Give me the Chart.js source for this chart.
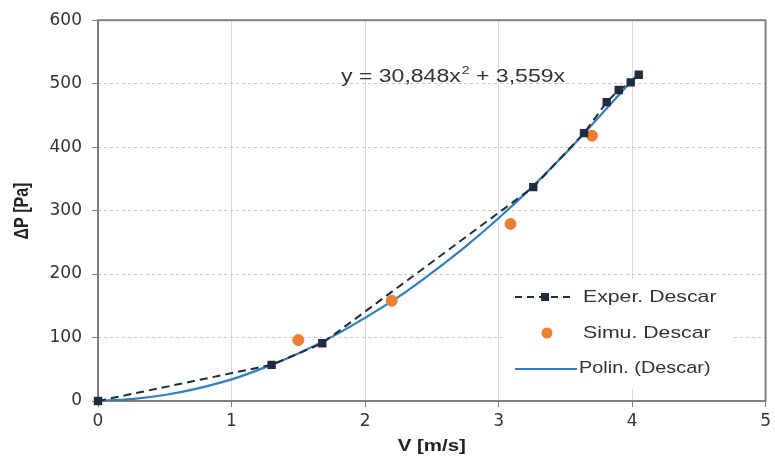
<!DOCTYPE html>
<html>
<head>
<meta charset="utf-8">
<script src="https://cdn.jsdelivr.net/npm/chart.js@4.4.1/dist/chart.umd.min.js"></script>
<style>
  html, body { margin: 0; padding: 0; background: #fff; }
  #wrap { width: 775px; height: 468px; position: relative; }
</style>
</head>
<body>
<div id="wrap"><canvas id="chart"></canvas></div>
<script>
// ── Data ───────────────────────────────────────────────────────────────
const xTicks = [0, 1, 2, 3, 4, 5];
const yTicks = [0, 100, 200, 300, 400, 500, 600];

const experV = [0, 1.30, 1.68, 3.26, 3.64, 3.81, 3.90, 3.99, 4.05];
const experDP = [0, 57, 91, 337, 422, 471, 490, 502, 514];

const simuV = [1.50, 2.20, 3.09, 3.70];
const simuDP = [96, 158, 279, 418];

// trendline (polynomial fit shown on the chart)
const polinV = [0, 0.25, 0.5, 0.75, 1, 1.25, 1.5, 1.75, 2, 2.25, 2.5, 2.75, 3, 3.25, 3.5, 3.75, 4.05];
const polinDP = [0, 3, 9.5, 20, 34, 53, 75, 101, 131, 164, 202, 243, 288, 337, 390, 447, 517];

const labels = ["Exper. Descar", "Simu. Descar", "Polin. (Descar)"];
const equation = ["y = 30,848x", "2", " + 3,559x"];

const toPoints = (xs, ys) => xs.map((x, i) => ({ x, y: ys[i] }));

// ── Colours / text ───────────────────────────────────────────────────────
const DARK = "#1f2d3f";
const ORANGE = "#ed7d31";
const BLUE = "#2e7fc3";
const TEXT = "#333333";
const SANS = "'Liberation Sans', Arial, sans-serif";
const SX = 1.28; // picture is stretched horizontally

function stretched(ctx, text, x, y, sx) {
  ctx.save();
  ctx.translate(x, y);
  ctx.scale(sx, 1);
  ctx.fillText(text, 0, 0);
  ctx.restore();
}

const decorPlugin = {
  id: "decorPlugin",
  beforeDatasetsDraw(chart) {
    const { ctx, chartArea: a } = chart;
    ctx.save();
    ctx.strokeStyle = "#808080";
    ctx.lineWidth = 2;
    ctx.strokeRect(a.left, a.top, a.right - a.left, a.bottom - a.top);
    ctx.restore();
  },
  afterDatasetsDraw(chart) {
    const { ctx, chartArea: a } = chart;
    const ds = chart.data.datasets;
    ctx.save();

    // equation
    ctx.fillStyle = TEXT;
    ctx.textBaseline = "middle";
    ctx.textAlign = "left";
    ctx.font = "18px " + SANS;
    let ex = 341, ey = 77;
    stretched(ctx, equation[0], ex, ey, SX);
    ex += ctx.measureText(equation[0]).width * SX + 1;
    ctx.font = "11px " + SANS;
    stretched(ctx, equation[1], ex, ey - 6, SX);
    ex += ctx.measureText(equation[1]).width * SX;
    ctx.font = "18px " + SANS;
    stretched(ctx, equation[2], ex, ey, SX);

    // legend
    ctx.fillStyle = "#fff";
    ctx.fillRect(503, 279, 230, 110);

    ctx.lineWidth = 2;
    ctx.strokeStyle = ds[0].borderColor;
    ctx.setLineDash([7, 5]);
    ctx.beginPath();
    ctx.moveTo(515, 297);
    ctx.lineTo(573, 297);
    ctx.stroke();
    ctx.setLineDash([]);
    ctx.fillStyle = ds[0].pointBackgroundColor;
    ctx.fillRect(541, 293, 8, 8);

    ctx.fillStyle = ds[1].pointBackgroundColor;
    ctx.beginPath();
    ctx.arc(547, 333, 5.5, 0, Math.PI * 2);
    ctx.fill();

    ctx.strokeStyle = ds[2].borderColor;
    ctx.beginPath();
    ctx.moveTo(515, 369);
    ctx.lineTo(577, 369);
    ctx.stroke();

    ctx.fillStyle = TEXT;
    ctx.font = "17px " + SANS;
    stretched(ctx, labels[0], 583, 297, 1.25);
    stretched(ctx, labels[1], 583, 333, 1.25);
    stretched(ctx, labels[2], 579, 368, 1.17);

    // axis titles
    ctx.fillStyle = "#222";
    ctx.font = "bold 16px " + SANS;
    ctx.textAlign = "center";
    stretched(ctx, "V [m/s]", (a.left + a.right) / 2, 447, SX);
    ctx.translate(22, 211);
    ctx.rotate(-Math.PI / 2);
    ctx.scale(1, SX);
    ctx.fillText("ΔP [Pa]", 0, 0);
    ctx.restore();
  },
};

const tickFont = { family: "'DejaVu Sans', sans-serif", size: 17 };

new Chart(document.getElementById("chart"), {
  type: "scatter",
  data: {
    datasets: [
      {
        label: labels[0],
        data: toPoints(experV, experDP),
        showLine: true,
        clip: false,
        borderColor: DARK,
        borderWidth: 2,
        borderDash: [8, 5],
        pointStyle: "rect",
        pointRadius: 4.5,
        pointBackgroundColor: DARK,
        pointBorderColor: DARK,
        order: 1,
      },
      {
        label: labels[1],
        data: toPoints(simuV, simuDP),
        showLine: false,
        pointRadius: 5.5,
        pointBackgroundColor: ORANGE,
        pointBorderColor: ORANGE,
        order: 2,
      },
      {
        label: labels[2],
        data: toPoints(polinV, polinDP),
        showLine: true,
        borderColor: BLUE,
        borderWidth: 2.2,
        pointRadius: 0,
        cubicInterpolationMode: "monotone",
        order: 3,
      },
    ],
  },
  options: {
    responsive: true,
    maintainAspectRatio: false,
    animation: false,
    layout: { padding: { top: 18, right: 7, left: 0, bottom: 0 } },
    plugins: { legend: { display: false }, tooltip: { enabled: false } },
    scales: {
      x: {
        type: "linear",
        min: xTicks[0],
        max: xTicks[xTicks.length - 1],
        afterFit: (s) => { s.height = 67; },
        afterBuildTicks: (s) => { s.ticks = xTicks.map((v) => ({ value: v })); },
        grid: { color: "#d9d9d9", lineWidth: 1, tickLength: 6, tickColor: "#808080" },
        border: { display: false },
        ticks: { padding: 4, color: TEXT, font: tickFont },
      },
      y: {
        type: "linear",
        min: yTicks[0],
        max: yTicks[yTicks.length - 1],
        afterFit: (s) => { s.width = 98; },
        afterBuildTicks: (s) => { s.ticks = yTicks.map((v) => ({ value: v })); },
        grid: { color: "#c8c8c8", lineWidth: 1, tickLength: 6, tickColor: "#808080" },
        border: { display: false, dash: [3, 3] },
        ticks: { padding: 10, color: TEXT, font: tickFont },
      },
    },
  },
  plugins: [decorPlugin],
});
</script>
</body>
</html>
